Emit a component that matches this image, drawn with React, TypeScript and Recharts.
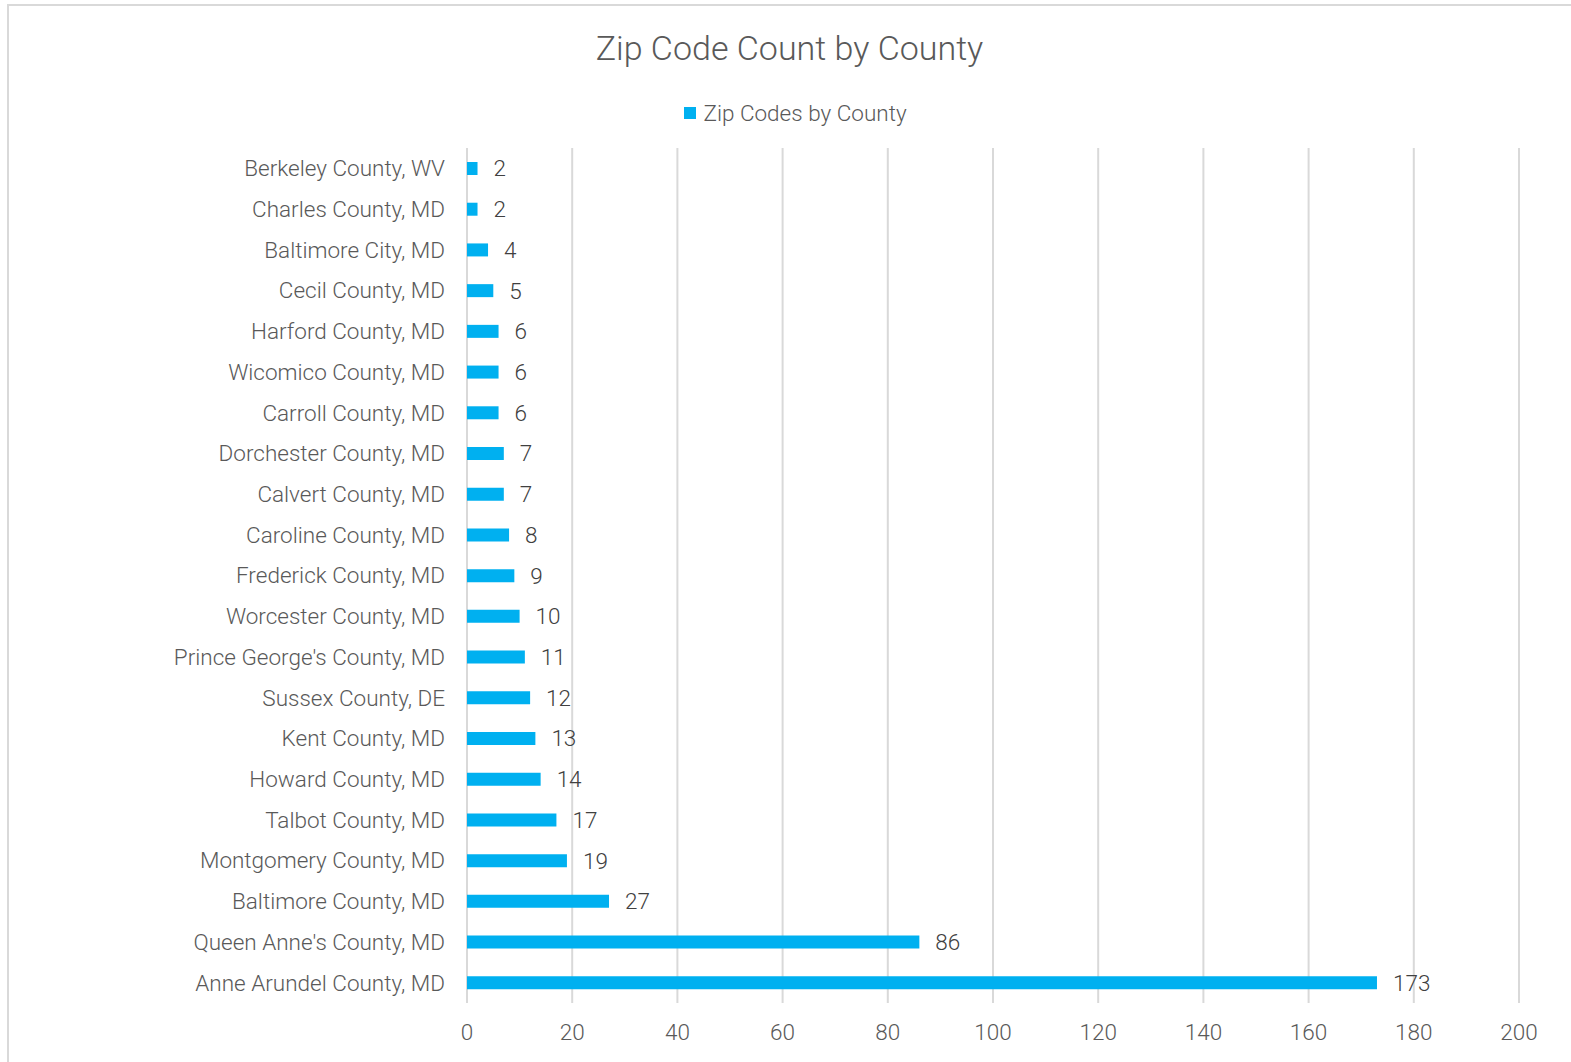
import React from "react";
import { BarChart, Bar, XAxis, YAxis, CartesianGrid, LabelList } from "recharts";

const counties = [
  "Berkeley County, WV",
  "Charles County, MD",
  "Baltimore City, MD",
  "Cecil County, MD",
  "Harford County, MD",
  "Wicomico County, MD",
  "Carroll County, MD",
  "Dorchester County, MD",
  "Calvert County, MD",
  "Caroline County, MD",
  "Frederick County, MD",
  "Worcester County, MD",
  "Prince George's County, MD",
  "Sussex County, DE",
  "Kent County, MD",
  "Howard County, MD",
  "Talbot County, MD",
  "Montgomery County, MD",
  "Baltimore County, MD",
  "Queen Anne's County, MD",
  "Anne Arundel County, MD",
];

const zipCounts = [2, 2, 4, 5, 6, 6, 6, 7, 7, 8, 9, 10, 11, 12, 13, 14, 17, 19, 27, 86, 173];

const xTicks = [0, 20, 40, 60, 80, 100, 120, 140, 160, 180, 200];

const data = counties.map((county, i) => ({ county, zips: zipCounts[i] }));

const FONT = "Roboto, 'Noto Sans', sans-serif";
const BLUE = "#00B0F0";

const App = () => {
  return (
    <div
      style={{
        position: "absolute",
        left: 0,
        top: 0,
        width: 1571,
        height: 1062,
        overflow: "hidden",
        background: "#fff",
        fontFamily: FONT,
        fontWeight: 300,
      }}>
      <div
        style={{
          position: "absolute",
          left: 7,
          top: 4,
          width: 1564,
          height: 1058,
          borderTop: "2px solid #d9d9d9",
          borderLeft: "2px solid #d9d9d9",
          boxSizing: "border-box",
        }}
      />
      <div
        style={{
          position: "absolute",
          left: 8,
          width: 1563,
          top: 28,
          lineHeight: "40px",
          fontSize: 34,
          color: "#595959",
          textAlign: "center",
        }}>
        Zip Code Count by County
      </div>
      <div
        style={{
          position: "absolute",
          left: 14,
          width: 1563,
          top: 99,
          lineHeight: "28px",
          fontSize: 22.5,
          color: "#595959",
          textAlign: "center",
        }}>
        <span
          style={{
            display: "inline-block",
            width: 12,
            height: 12,
            background: BLUE,
            marginRight: 7,
            verticalAlign: "middle",
            position: "relative",
            top: -2,
          }}
        />
        Zip Codes by County
      </div>
      <div style={{ position: "absolute", left: 0, top: 0 }}>
        <BarChart
          width={1571}
          height={1062}
          data={data}
          layout="vertical"
          margin={{ top: 148, right: 52, left: 29, bottom: 19 }}
          barCategoryGap={0}>
          <CartesianGrid horizontal={false} vertical stroke="#d9d9d9" strokeWidth={2} />
          <XAxis
            type="number"
            domain={[0, 200]}
            ticks={xTicks}
            axisLine={false}
            tickLine={false}
            tickSize={0}
            tickMargin={21}
            height={40}
            interval={0}
            tick={{ fill: "#595959", fontSize: 22.5, fontFamily: FONT, fontWeight: 300 }}
          />
          <YAxis
            type="category"
            dataKey="county"
            width={438}
            axisLine={false}
            tickLine={false}
            tickSize={0}
            tickMargin={22}
            interval={0}
            tick={{ fill: "#595959", fontSize: 22.5, fontFamily: FONT, fontWeight: 300 }}
          />
          <Bar dataKey="zips" fill={BLUE} barSize={13} isAnimationActive={false}>
            <LabelList
              dataKey="zips"
              position="right"
              offset={16}
              fill="#404040"
              fontSize={22.5}
              fontFamily={FONT}
              fontWeight={300}
            />
          </Bar>
        </BarChart>
      </div>
    </div>
  );
};

export default App;
